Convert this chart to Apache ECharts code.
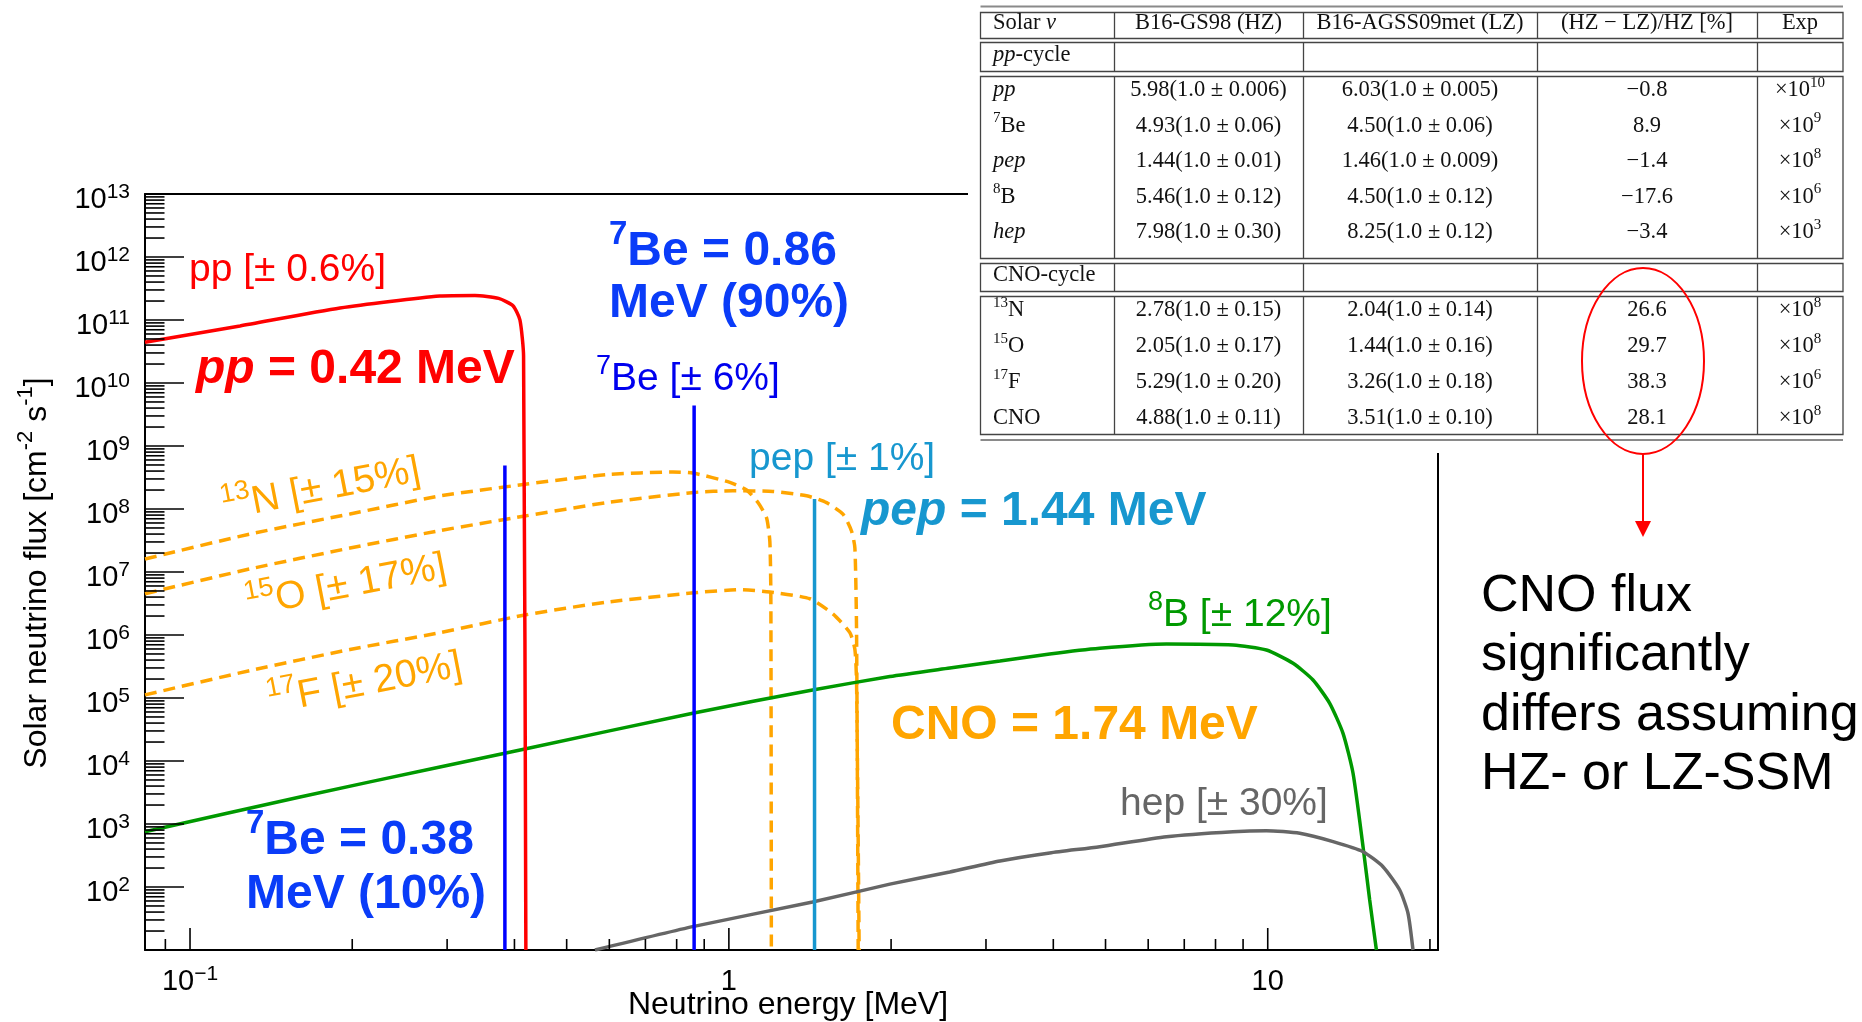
<!DOCTYPE html>
<html>
<head>
<meta charset="utf-8">
<script src="https://cdn.jsdelivr.net/npm/echarts@6/dist/echarts.min.js"></script>
<style>
html, body { margin: 0; padding: 0; background: #ffffff; }
#chart { width: 1862px; height: 1022px; }
</style>
</head>
<body>
<div id="chart"></div>
<script>
// ===== Axis ranges and tick positions =====
const xMin = 0.0825, xMax = 20.7;
const yMin = 10, yMax = 1e13;
const xMajorTicks = [0.1, 1, 10];
const xMinorTicks = [0.09, 0.2, 0.3, 0.4, 0.5, 0.6, 0.7, 0.8, 0.9, 2, 3, 4, 5, 6, 7, 8, 9, 20];
const yMajorExponents = [1, 2, 3, 4, 5, 6, 7, 8, 9, 10, 11, 12, 13];
const yMinorMultipliers = [2, 3, 4, 5, 6, 7, 8, 9];

// ===== Continuous spectra (E in MeV, flux) =====
const ppEnergy = [0.0825, 0.1238, 0.1898, 0.2909, 0.3379, 0.3739, 0.3975, 0.4095, 0.4159, 0.4200];
const ppFlux   = [4.43e10, 8.04e10, 1.55e11, 2.40e11, 2.45e11, 2.20e11, 1.68e11, 1.00e11, 2.69e10, 10];

const n13Energy = [0.0825, 0.1292, 0.1981, 0.2909, 0.4218, 0.5938, 0.7873, 0.8574, 1.0043, 1.0785, 1.1334, 1.1746, 1.1913, 1.1965, 1.1990];
const n13Flux   = [1.61e7, 4.01e7, 8.34e7, 1.61e8, 2.49e8, 3.52e8, 3.86e8, 3.72e8, 2.65e8, 2.00e8, 1.26e8, 7.24e7, 3.06e7, 3.76e6, 10];

const o15Energy = [0.0825, 0.1292, 0.1981, 0.2909, 0.4182, 0.5930, 0.8612, 1.0171, 1.2067, 1.3940, 1.5180, 1.6299, 1.6894, 1.7134, 1.7257, 1.7377];
const o15Flux   = [4.52e6, 1.12e7, 2.40e7, 4.54e7, 7.74e7, 1.26e8, 1.83e8, 1.95e8, 1.90e8, 1.62e8, 1.26e8, 8.20e7, 4.43e7, 2.40e7, 1.09e6, 10];

const f17Energy = [0.0825, 0.1292, 0.1981, 0.2909, 0.4182, 0.5930, 0.8612, 1.0481, 1.1913, 1.4137, 1.5614, 1.6770, 1.7134, 1.7257, 1.7449];
const f17Flux   = [1.12e5, 2.72e5, 5.89e5, 1.09e6, 2.08e6, 3.32e6, 4.68e6, 5.24e6, 4.82e6, 3.76e6, 2.15e6, 1.09e6, 5.89e5, 1.73e5, 10];

const b8Energy = [0.0825, 0.16, 0.2909, 0.4224, 0.8612, 1.4302, 1.9894, 2.5704, 3.1842, 3.9392, 4.8775, 6.4877, 8.6198, 9.9449, 11.143, 12.136, 13.032, 13.795, 14.398, 15.026, 15.460, 15.91];
const b8Flux   = [755, 2.69e3, 8.04e3, 1.58e4, 5.78e4, 1.34e5, 2.19e5, 2.99e5, 3.86e5, 4.99e5, 6.15e5, 7.19e5, 6.93e5, 5.78e5, 3.56e5, 1.93e5, 8.24e4, 2.75e4, 6.38e3, 437, 62.2, 10];

const hepEnergy = [0.5642, 0.8612, 1.4302, 1.9894, 2.5704, 3.1842, 3.9392, 4.8775, 6.4877, 8.6198, 9.9449, 11.466, 13.222, 15.026, 16.363, 17.576, 18.210, 18.604];
const hepFlux   = [10, 23.7, 57.8, 111, 173, 259, 347, 437, 629, 755, 783, 711, 524, 363, 210, 89.5, 38.3, 10];

// ===== Monoenergetic lines =====
const be7LowEnergy = 0.384, be7LowFlux = 4.9e8;
const be7HighEnergy = 0.862, be7HighFlux = 4.4e9;
const pepLineEnergy = 1.442, pepLineFlux = 1.44e8;

// ===== Table content =====
const tableHeader = ['{n|Solar }{i|ν}', '{n|B16-GS98 (HZ)}', '{n|B16-AGSS09met (LZ)}', '{n|(HZ − LZ)/HZ [%]}', '{n|Exp}'];
const ppCycleTitle = '{i|pp}{n|-cycle}';
const ppCycleNames = ['{i|pp}', '{s|7}{n|Be}', '{i|pep}', '{s|8}{n|B}', '{i|hep}'];
const ppCycleHZ = ['5.98(1.0 ± 0.006)', '4.93(1.0 ± 0.06)', '1.44(1.0 ± 0.01)', '5.46(1.0 ± 0.12)', '7.98(1.0 ± 0.30)'];
const ppCycleLZ = ['6.03(1.0 ± 0.005)', '4.50(1.0 ± 0.06)', '1.46(1.0 ± 0.009)', '4.50(1.0 ± 0.12)', '8.25(1.0 ± 0.12)'];
const ppCycleDiff = ['−0.8', '8.9', '−1.4', '−17.6', '−3.4'];
const ppCycleExp = ['10', '9', '8', '6', '3'];
const cnoCycleTitle = '{n|CNO-cycle}';
const cnoCycleNames = ['{s|13}{n|N}', '{s|15}{n|O}', '{s|17}{n|F}', '{n|CNO}'];
const cnoCycleHZ = ['2.78(1.0 ± 0.15)', '2.05(1.0 ± 0.17)', '5.29(1.0 ± 0.20)', '4.88(1.0 ± 0.11)'];
const cnoCycleLZ = ['2.04(1.0 ± 0.14)', '1.44(1.0 ± 0.16)', '3.26(1.0 ± 0.18)', '3.51(1.0 ± 0.10)'];
const cnoCycleDiff = ['26.6', '29.7', '38.3', '28.1'];
const cnoCycleExp = ['8', '8', '6', '8'];

// ===== Styling =====
const SANS = '"Liberation Sans", Arial, Helvetica, sans-serif';
const SERIF = '"Liberation Serif", "Times New Roman", serif';
const RED = '#ff0000', BLUE_LINE = '#0000ff', BLUE_BIG = '#0a3cf8', BLUE_TXT = '#0000ee';
const TEAL = '#1797cf', ORANGE = '#ffa500', GREEN = '#009900', GRAY = '#666666';

function zip(a, b) { return a.map((v, i) => [v, b[i]]); }

function styles(F, color, family) {
  const base = { fontSize: F, lineHeight: F, height: F, verticalAlign: 'bottom', fontFamily: family, fill: color, color: color };
  const sup = { fontSize: Math.round(F * 0.68), lineHeight: F * 0.322, height: F * 0.322, verticalAlign: 'top', fontFamily: family, fill: color, color: color };
  return {
    n: base,
    i: Object.assign({}, base, { fontStyle: 'italic' }),
    b: Object.assign({}, base, { fontWeight: 'bold' }),
    bi: Object.assign({}, base, { fontWeight: 'bold', fontStyle: 'italic' }),
    s: sup,
    sb: Object.assign({}, sup, { fontWeight: 'bold' })
  };
}

// text whose baseline starts at (x, base)
function T(x, base, text, F, color, family, align, rot, z) {
  return {
    type: 'text', x: x, y: base, rotation: rot || 0, z: z || 20, silent: true,
    style: { text: text, rich: styles(F, color, family || SANS), x: 0, y: -0.3465 * F, align: align || 'left', verticalAlign: 'middle' }
  };
}
function L(x1, y1, x2, y2, color, w, z) {
  return { type: 'line', z: z, silent: true, shape: { x1: x1, y1: y1, x2: x2, y2: y2 }, style: { stroke: color, lineWidth: w } };
}

function curve(name, E, F, color, dashed) {
  return {
    name: name, type: 'line', data: zip(E, F), showSymbol: false, symbol: 'none',
    smooth: 0.2, silent: true, z: 3,
    lineStyle: { color: color, width: 3.5, type: dashed ? [12, 7] : 'solid' }
  };
}
function vline(name, E, F, color) {
  return {
    name: name, type: 'line', data: [[E, yMin], [E, F]], showSymbol: false, symbol: 'none', silent: true, z: 4,
    lineStyle: { color: color, width: 3.5 }
  };
}

// ===== Tick marks (ROOT style, drawn inside the frame) =====
const xTickData = xMajorTicks.map(v => [v, yMin, 1]).concat(xMinorTicks.map(v => [v, yMin, 0]));
const yTickData = [];
yMajorExponents.forEach(e => {
  yTickData.push([xMin, Math.pow(10, e), 1]);
  if (e < 13) yMinorMultipliers.forEach(m => yTickData.push([xMin, m * Math.pow(10, e), 0]));
});

function fmtExp(v, isX) {
  const lg = Math.log10(v);
  const e = Math.round(lg);
  if (Math.abs(lg - e) > 1e-6) return '';
  if (isX && e === 0) return '{m|1}';
  if (isX && e === 1) return '{m|10}';
  return '{m|10}{s|' + (e < 0 ? '−' + (-e) : e) + '}';
}
const axisRich = {
  m: { fontSize: 29, lineHeight: 29, height: 29, verticalAlign: 'bottom', fontFamily: SANS, color: '#000' },
  s: { fontSize: 21, lineHeight: 14, height: 14, verticalAlign: 'top', fontFamily: SANS, color: '#000' }
};

// ===== Graphic overlays =====
const G = [];
// labels on plot
G.push(T(189, 284, '{n|pp [± 0.6%]}', 39, RED));
G.push(T(196, 386, '{bi|pp}{b| = 0.42 MeV}', 48, RED));
G.push(T(609, 268, '{sb|7}{b|Be = 0.86}', 48, BLUE_BIG));
G.push(T(609, 320, '{b|MeV (90%)}', 48, BLUE_BIG));
G.push(T(246, 857, '{sb|7}{b|Be = 0.38}', 48, BLUE_BIG));
G.push(T(246, 911, '{b|MeV (10%)}', 48, BLUE_BIG));
G.push(T(596, 393, '{s|7}{n|Be [± 6%]}', 39, BLUE_TXT));
G.push(T(749, 473, '{n|pep [± 1%]}', 39, TEAL));
G.push(T(861, 528, '{bi|pep}{b| = 1.44 MeV}', 48, TEAL));
G.push(T(891, 742, '{b|CNO = 1.74 MeV}', 48, ORANGE));
G.push(T(1148, 629, '{s|8}{n|B [± 12%]}', 39, GREEN));
G.push(T(1120, 818, '{n|hep [± 30%]}', 39, GRAY));
const rot = 11 * Math.PI / 180;
G.push(T(225, 522, '{s|13}{n|N [± 15%]}', 39, ORANGE, SANS, 'left', rot));
G.push(T(249, 619, '{s|15}{n|O [± 17%]}', 39, ORANGE, SANS, 'left', rot));
G.push(T(271, 716, '{s|17}{n|F [± 20%]}', 39, ORANGE, SANS, 'left', rot));
// axis titles
G.push(T(788, 1016, '{n|Neutrino energy [MeV]}', 32, '#000', SANS, 'center'));
G.push(T(48, 573, '{n|Solar neutrino flux [cm}{s|-2}{n| s}{s|-1}{n|]}', 32, '#000', SANS, 'center', Math.PI / 2));
// right note
G.push(T(1481, 615, '{n|CNO flux}', 52, '#000'));
G.push(T(1481, 674, '{n|significantly}', 52, '#000'));
G.push(T(1481, 734, '{n|differs assuming}', 52, '#000'));
G.push(T(1481, 793, '{n|HZ- or LZ-SSM}', 52, '#000'));

// table
G.push({ type: 'rect', z: 50, silent: true, shape: { x: 968, y: 0, width: 894, height: 453 }, style: { fill: '#ffffff' } });
const tblLeft = 980.5, tblRight = 1843;
const colX = [1114, 1303, 1537, 1757];
const colCenter = [1208.5, 1420, 1647, 1800];
const tableBoxes = [[12, 38], [42, 71], [76, 258], [263, 291], [296, 434]];
G.push(L(tblLeft, 6.5, tblRight, 6.5, '#8a8a8a', 2, 51));
G.push(L(tblLeft, 440, tblRight, 440, '#8a8a8a', 2, 51));
tableBoxes.forEach(bx => {
  G.push({ type: 'rect', z: 51, silent: true, shape: { x: tblLeft, y: bx[0] + 0.5, width: tblRight - tblLeft, height: bx[1] - bx[0] }, style: { fill: 'none', stroke: '#444', lineWidth: 1.3 } });
  colX.forEach(cx => G.push(L(cx + 0.5, bx[0], cx + 0.5, bx[1], '#444', 1.3, 51)));
});
const TF = 22.5, TC = '#111111';
const tcell = (x, b, t, al) => T(x, b, t, TF, TC, SERIF, al, 0, 52);
G.push(tcell(993, 31, tableHeader[0], 'left'));
for (let k = 1; k < 5; k++) G.push(tcell(colCenter[k - 1], 31, tableHeader[k], 'center'));
G.push(tcell(993, 63, ppCycleTitle, 'left'));
const ppRows = [98, 133.5, 169, 204.5, 240];
ppRows.forEach((b, r) => {
  G.push(tcell(993, b, ppCycleNames[r], 'left'));
  G.push(tcell(colCenter[0], b, '{n|' + ppCycleHZ[r] + '}', 'center'));
  G.push(tcell(colCenter[1], b, '{n|' + ppCycleLZ[r] + '}', 'center'));
  G.push(tcell(colCenter[2], b, '{n|' + ppCycleDiff[r] + '}', 'center'));
  G.push(tcell(colCenter[3], b, '{n|×10}{s|' + ppCycleExp[r] + '}', 'center'));
});
G.push(tcell(993, 283, cnoCycleTitle, 'left'));
const cnoRows = [318, 354, 390, 426];
cnoRows.forEach((b, r) => {
  G.push(tcell(993, b, cnoCycleNames[r], 'left'));
  G.push(tcell(colCenter[0], b, '{n|' + cnoCycleHZ[r] + '}', 'center'));
  G.push(tcell(colCenter[1], b, '{n|' + cnoCycleLZ[r] + '}', 'center'));
  G.push(tcell(colCenter[2], b, '{n|' + cnoCycleDiff[r] + '}', 'center'));
  G.push(tcell(colCenter[3], b, '{n|×10}{s|' + cnoCycleExp[r] + '}', 'center'));
});
// red ellipse and arrow
G.push({ type: 'ellipse', z: 60, silent: true, shape: { cx: 1643, cy: 361, rx: 61, ry: 93 }, style: { fill: 'none', stroke: RED, lineWidth: 2 } });
G.push(L(1643, 454, 1643, 524, RED, 2, 60));
G.push({ type: 'polygon', z: 60, silent: true, shape: { points: [[1635, 521], [1651, 521], [1643, 537]] }, style: { fill: RED } });

const chart = echarts.init(document.getElementById('chart'), null, { renderer: 'canvas', width: 1862, height: 1022 });
chart.setOption({
  animation: false,
  backgroundColor: '#ffffff',
  grid: { left: 145, right: 424, top: 194, bottom: 72, containLabel: false },
  xAxis: [
    { type: 'log', logBase: 10, min: xMin, max: xMax, position: 'bottom',
      axisLine: { show: true, onZero: false, lineStyle: { color: '#000', width: 2 } },
      axisTick: { show: false }, minorTick: { show: false }, splitLine: { show: false },
      axisLabel: { show: true, margin: 17, formatter: v => fmtExp(v, true), rich: axisRich, showMinLabel: false, showMaxLabel: false, hideOverlap: false } },
    { type: 'log', logBase: 10, min: xMin, max: xMax, position: 'top',
      axisLine: { show: true, onZero: false, lineStyle: { color: '#000', width: 2 } },
      axisTick: { show: false }, axisLabel: { show: false }, splitLine: { show: false } }
  ],
  yAxis: [
    { type: 'log', logBase: 10, min: yMin, max: yMax, interval: 1, splitNumber: 12, position: 'left',
      axisLine: { show: true, onZero: false, lineStyle: { color: '#000', width: 2 } },
      axisTick: { show: false }, minorTick: { show: false }, splitLine: { show: false },
      axisLabel: { show: true, margin: 15, interval: 0, formatter: v => fmtExp(v, false), rich: axisRich, padding: [12, 0, 0, 0], showMinLabel: false, showMaxLabel: true, hideOverlap: false } },
    { type: 'log', logBase: 10, min: yMin, max: yMax, position: 'right',
      axisLine: { show: true, onZero: false, lineStyle: { color: '#000', width: 2 } },
      axisTick: { show: false }, axisLabel: { show: false }, splitLine: { show: false } }
  ],
  series: [
    { type: 'custom', name: 'xticks', xAxisIndex: 0, yAxisIndex: 0, data: xTickData, clip: false, silent: true, z: 5,
      encode: { x: 0, y: 1 },
      renderItem: (params, api) => {
        const p = api.coord([api.value(0), api.value(1)]);
        const len = api.value(2) === 1 ? 22 : 11;
        return { type: 'line', shape: { x1: p[0], y1: p[1], x2: p[0], y2: p[1] - len }, style: { stroke: '#000', lineWidth: 1.6 } };
      } },
    { type: 'custom', name: 'yticks', xAxisIndex: 0, yAxisIndex: 0, data: yTickData, clip: false, silent: true, z: 5,
      encode: { x: 0, y: 1 },
      renderItem: (params, api) => {
        const p = api.coord([api.value(0), api.value(1)]);
        const len = api.value(2) === 1 ? 39 : 19.5;
        return { type: 'line', shape: { x1: p[0], y1: p[1], x2: p[0] + len, y2: p[1] }, style: { stroke: '#000', lineWidth: 1.6 } };
      } },
    curve('13N', n13Energy, n13Flux, ORANGE, true),
    curve('15O', o15Energy, o15Flux, ORANGE, true),
    curve('17F', f17Energy, f17Flux, ORANGE, true),
    curve('8B', b8Energy, b8Flux, GREEN, false),
    curve('hep', hepEnergy, hepFlux, GRAY, false),
    vline('7Be 0.38', be7LowEnergy, be7LowFlux, BLUE_LINE),
    curve('pp', ppEnergy, ppFlux, RED, false),
    vline('7Be 0.86', be7HighEnergy, be7HighFlux, BLUE_LINE),
    vline('pep', pepLineEnergy, pepLineFlux, TEAL)
  ],
  graphic: { elements: G }
});
</script>
</body>
</html>
